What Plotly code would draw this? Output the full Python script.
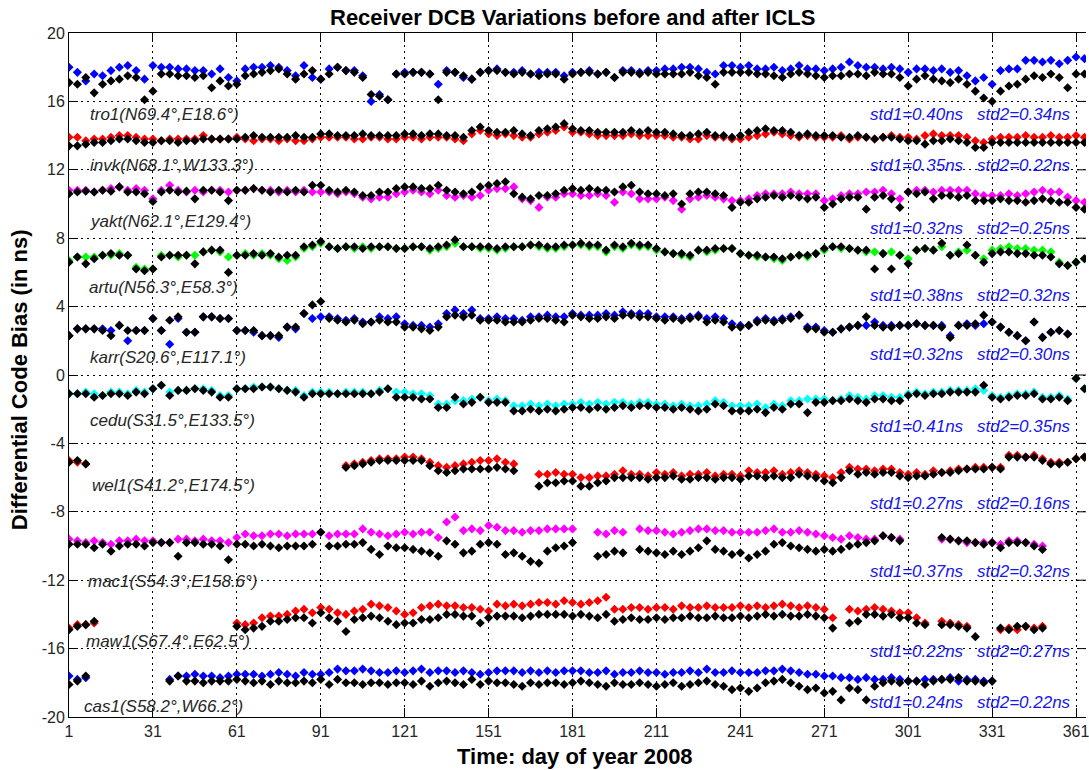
import plotly.graph_objects as go

# ---------------- data (sampled every 3 days: 1, 4, ..., 364) ----------------
days = list(range(1, 365, 3))
_ = None
GAP = [None] * 10

stations = ["tro1(N69.4°,E18.6°)", "invk(N68.1°,W133.3°)", "yakt(N62.1°,E129.4°)",
            "artu(N56.3°,E58.3°)", "karr(S20.6°,E117.1°)", "cedu(S31.5°,E133.5°)",
            "wel1(S41.2°,E174.5°)", "mac1(S54.3°,E158.6°)", "maw1(S67.4°,E62.5°)",
            "cas1(S58.2°,W66.2°)"]
std1 = ["std1=0.40ns", "std1=0.35ns", "std1=0.32ns", "std1=0.38ns", "std1=0.32ns",
        "std1=0.41ns", "std1=0.27ns", "std1=0.37ns", "std1=0.22ns", "std1=0.24ns"]
std2 = ["std2=0.34ns", "std2=0.22ns", "std2=0.25ns", "std2=0.32ns", "std2=0.30ns",
        "std2=0.35ns", "std2=0.16ns", "std2=0.32ns", "std2=0.27ns", "std2=0.22ns"]
station_colors = ["#0000FF", "#FF0000", "#FF00FF", "#00FF00", "#0000FF",
                  "#00FFFF", "#FF0000", "#FF00FF", "#FF0000", "#0000FF"]

x_ticks = [1, 31, 61, 91, 121, 151, 181, 211, 241, 271, 301, 331, 361]
y_ticks = [-20, -16, -12, -8, -4, 0, 4, 8, 12, 16, 20]

tro1_c = [18.0, 17.7, 17.2, 17.6, 17.5, 17.8, 18.0, 18.1, 17.8, 17.3,
          18.1, 18.0, 18.0, 17.9, 17.9, 17.8, 17.8, 17.6, 17.9, 17.4,
          17.2, 17.9, 18.0, 18.0, 18.1, 18.0, 17.8, 17.5, 18.1, 17.4,
          17.3, 17.9, 18.0, 17.8, 17.8, 17.5, 16.0, 16.4, 16.1, 17.6,
          17.7, 17.7, 17.7, 17.6, 17.0, 17.8, 17.7, 17.4, 17.3, 17.7,
          17.8, 17.9, 17.7, 17.7, 17.8, 17.6, 17.7, 17.7, 17.7, 17.5,
          17.7, 17.7, 17.8, 17.6, 17.7, 17.4, 17.8, 17.8, 17.7, 17.8,
          17.8, 17.9, 17.9, 18.0, 18.0, 17.9, 17.7, 17.6, 18.1, 18.1,
          18.0, 18.1, 17.9, 17.9, 18.0, 17.8, 17.9, 18.1, 17.9, 17.9,
          17.8, 17.9, 18.0, 18.3, 18.1, 18.0, 18.0, 17.9, 18.0, 17.9,
          17.7, 17.9, 17.9, 17.8, 17.9, 17.7, 17.8, 17.5, 17.2, 17.4,
          17.0, 17.8, 17.9, 17.9, 18.4, 18.4, 18.3, 18.4, 18.2, 18.4,
          18.6, 18.5]
tro1_k = [17.1, 17.0, 17.4, 16.5, 17.0, 17.2, 17.3, 17.5, 17.4, 16.1,
          16.6, 17.6, 17.6, 17.5, 17.5, 17.4, 17.5, 16.8, 17.2, 16.9,
          17.0, 17.5, 17.6, 17.7, 17.8, 17.9, 17.6, 17.3, 17.6, 17.8,
          17.3, 17.6, 18.0, 17.8, 17.7, 17.4, 16.4, 16.3, 16.1, 17.6,
          17.6, 17.7, 17.7, 17.6, 16.1, 17.7, 17.7, 17.5, 17.3, 17.7,
          17.8, 17.8, 17.7, 17.6, 17.7, 17.6, 17.5, 17.6, 17.6, 17.3,
          17.6, 17.7, 17.7, 17.6, 17.7, 17.4, 17.7, 17.7, 17.6, 17.7,
          17.6, 17.6, 17.6, 17.6, 17.7, 17.5, 17.4, 17.0, 17.7, 17.7,
          17.7, 17.7, 17.6, 17.6, 17.5, 17.4, 17.6, 17.7, 17.6, 17.5,
          17.4, 17.5, 17.5, 17.6, 17.6, 17.5, 17.7, 17.6, 17.6, 17.4,
          16.9, 17.3, 17.5, 17.3, 17.2, 17.1, 17.3, 17.0, 16.6, 16.2,
          16.0, 16.6, 16.9, 17.0, 17.3, 17.5, 17.4, 17.6, 17.4, 16.8,
          17.6, 17.6]

invk_c = [13.9, 13.9, 13.7, 13.8, 13.8, 13.9, 14.0, 14.0, 13.9, 13.8,
          13.8, 13.7, 13.8, 13.8, 13.8, 13.8, 14.0, 13.8, 13.8, 13.8,
          13.9, 13.8, 13.7, 13.8, 13.8, 13.7, 13.8, 13.7, 13.7, 13.8,
          13.9, 13.9, 13.9, 13.9, 13.8, 13.8, 13.9, 13.9, 13.8, 13.8,
          13.9, 13.9, 13.8, 13.9, 13.9, 13.9, 13.8, 13.7, 14.1, 14.3,
          14.1, 14.0, 14.1, 14.0, 13.9, 13.9, 14.1, 14.2, 14.3, 14.5,
          14.2, 14.2, 14.1, 14.0, 14.0, 14.0, 14.0, 14.1, 14.0, 14.0,
          14.0, 14.0, 13.9, 13.9, 13.8, 13.8, 14.0, 13.9, 13.9, 13.8,
          13.8, 13.9, 14.0, 14.1, 14.2, 14.1, 14.0, 13.9, 14.0, 13.9,
          13.9, 13.9, 14.0, 13.8, 13.9, 13.9, 13.8, 13.9, 14.0, 13.9,
          13.9, 13.8, 14.0, 14.1, 14.0, 14.0, 14.0, 13.9, 13.7, 13.6,
          13.8, 13.9, 13.9, 13.9, 14.0, 13.9, 13.9, 14.0, 13.9, 13.9,
          14.0, 13.9]
invk_k = [13.4, 13.4, 13.5, 13.6, 13.6, 13.7, 13.8, 13.8, 13.7, 13.6,
          13.6, 13.7, 13.7, 13.6, 13.7, 13.7, 13.8, 13.8, 13.8, 13.8,
          13.8, 13.9, 14.0, 13.9, 13.9, 13.9, 13.9, 14.0, 13.9, 13.9,
          14.1, 14.1, 14.0, 14.0, 14.0, 14.1, 14.0, 14.0, 14.0, 14.0,
          14.1, 14.1, 14.0, 14.1, 14.1, 14.0, 14.0, 13.9, 14.3, 14.5,
          14.3, 14.2, 14.2, 14.3, 14.1, 14.0, 14.3, 14.4, 14.5, 14.7,
          14.4, 14.3, 14.3, 14.2, 14.2, 14.2, 14.2, 14.3, 14.2, 14.3,
          14.2, 14.2, 14.1, 14.0, 14.0, 14.1, 14.2, 14.0, 14.0, 13.9,
          14.0, 14.2, 14.3, 14.4, 14.3, 14.3, 14.2, 14.0, 14.1, 14.0,
          14.0, 14.0, 13.9, 13.9, 14.0, 13.9, 13.8, 13.9, 13.9, 13.8,
          13.7, 13.7, 13.5, 13.7, 13.7, 13.8, 13.7, 13.6, 13.3, 13.3,
          13.6, 13.6, 13.6, 13.6, 13.6, 13.6, 13.6, 13.6, 13.6, 13.6,
          13.6, 13.6]

yakt_c = [10.8, 10.8, 10.8, 10.7, 10.8, 10.9, 11.0, 10.8, 10.9, 10.8,
          10.3, 10.8, 11.1, 10.8, 10.7, 10.8, 10.7, 10.8, 10.8, 10.7,
          10.8, 10.8, 10.9, 10.8, 10.8, 10.7, 10.8, 10.7, 10.8, 10.7,
          10.7, 10.7, 10.6, 10.7, 10.6, 10.4, 10.3, 10.4, 10.4, 10.6,
          10.7, 10.8, 10.7, 10.6, 10.8, 10.5, 10.4, 10.5, 10.4, 10.5,
          10.8, 10.9, 10.9, 11.0, 10.3, 10.2, 9.8, 10.4, 10.4, 10.6,
          10.6, 10.5, 10.5, 10.6, 10.5, 10.1, 10.7, 10.6, 10.3, 10.3,
          10.3, 10.4, 10.2, 9.7, 10.3, 10.4, 10.5, 10.4, 10.3, 10.2,
          10.2, 10.3, 10.5, 10.6, 10.6, 10.6, 10.7, 10.6, 10.6, 10.6,
          10.2, 10.3, 10.5, 10.6, 10.6, 10.7, 10.7, 10.8, 10.6, 10.3,
          10.7, 10.8, 10.8, 10.7, 10.8, 10.8, 10.8, 10.8, 10.6, 10.5,
          10.5, 10.5, 10.6, 10.5, 10.6, 10.7, 10.8, 10.7, 10.7, 10.4,
          10.2, 10.1]
yakt_k = [10.6, 10.7, 10.75, 10.7, 10.8, 10.75, 11.0, 10.7, 10.7, 10.6,
          10.15, 10.7, 10.8, 10.7, 10.75, 10.3, 10.8, 10.8, 10.7, 10.2,
          10.8, 10.8, 10.9, 10.8, 10.7, 10.8, 10.7, 10.8, 10.7, 11.1,
          11.1, 10.8, 10.7, 10.8, 10.7, 10.5, 10.5, 10.7, 10.7, 10.9,
          11.0, 11.0, 10.9, 10.9, 11.1, 10.8, 10.7, 10.6, 10.7, 11.0,
          11.1, 11.2, 11.3, 10.6, 10.4, 10.3, 10.5, 10.5, 10.6, 10.8,
          10.9, 10.8, 10.9, 10.8, 10.8, 10.7, 11.0, 11.1, 10.7, 10.6,
          10.6, 10.5, 10.6, 10.0, 10.6, 10.7, 10.7, 10.6, 10.5, 9.8,
          10.1, 10.1, 10.3, 10.4, 10.5, 10.4, 10.5, 10.4, 10.3, 10.4,
          9.8, 10.0, 10.3, 10.4, 10.4, 9.7, 10.4, 10.5, 10.3, 9.8,
          10.7, 10.6, 10.7, 10.3, 10.5, 10.5, 10.4, 10.5, 10.2, 10.2,
          10.2, 10.3, 10.2, 10.2, 10.1, 10.2, 10.3, 10.2, 10.1, 10.1,
          9.8, 9.7]

artu_c = [6.7, 6.9, 6.9, 6.9, 7.0, 7.0, 7.1, 7.0, 6.3, 6.2,
          6.2, 7.0, 7.0, 6.9, 7.0, 7.0, 7.2, 7.3, 7.2, 6.9,
          7.0, 7.1, 7.0, 7.1, 7.0, 6.8, 6.7, 6.9, 7.4, 7.5,
          7.7, 7.5, 7.4, 7.5, 7.4, 7.5, 7.4, 7.5, 7.5, 7.4,
          7.4, 7.5, 7.5, 7.3, 7.4, 7.5, 7.7, 7.5, 7.5, 7.4,
          7.4, 7.3, 7.4, 7.5, 7.5, 7.6, 7.5, 7.4, 7.4, 7.5,
          7.6, 7.6, 7.5, 7.5, 7.2, 7.5, 7.4, 7.6, 7.5, 7.5,
          7.3, 7.2, 7.1, 7.0, 6.9, 7.3, 7.2, 7.3, 7.4, 7.4,
          7.1, 7.0, 6.9, 6.9, 6.8, 6.7, 6.9, 7.0, 6.9, 7.1,
          7.3, 7.5, 7.4, 7.4, 7.3, 7.2, 7.2, 7.1, 7.2, 7.0,
          6.8, 7.3, 7.4, 7.3, 7.5, 7.0, 7.2, 7.3, 7.0, 6.8,
          7.3, 7.4, 7.5, 7.4, 7.4, 7.3, 7.3, 7.2, 6.6, 6.4,
          6.6, 6.8]
artu_k = [6.6, 6.9, 6.5, 6.8, 7.0, 7.1, 7.0, 7.0, 6.2, 6.1,
          6.2, 6.9, 7.0, 7.0, 7.0, 6.5, 7.2, 7.3, 7.3, 6.0,
          7.0, 7.0, 7.1, 7.0, 7.1, 6.9, 7.0, 7.0, 7.5, 7.6,
          7.8, 7.5, 7.4, 7.5, 7.5, 7.4, 7.5, 7.5, 7.5, 7.4,
          7.4, 7.5, 7.5, 7.4, 7.5, 7.6, 7.9, 7.5, 7.5, 7.5,
          7.5, 7.4, 7.5, 7.5, 7.5, 7.6, 7.6, 7.5, 7.5, 7.6,
          7.6, 7.7, 7.6, 7.6, 7.3, 7.6, 7.5, 7.7, 7.6, 7.6,
          7.4, 7.2, 7.1, 7.1, 7.0, 7.3, 7.3, 7.4, 7.4, 7.4,
          7.1, 7.0, 7.0, 6.9, 6.9, 6.8, 6.9, 7.0, 7.0, 7.1,
          7.4, 7.5, 7.5, 7.4, 7.3, 7.3, 6.2, 7.1, 6.2, 7.0,
          6.5, 7.3, 7.4, 7.3, 7.7, 7.0, 7.1, 7.6, 7.0, 6.6,
          7.1, 7.2, 7.2, 7.1, 7.1, 7.0, 7.0, 6.9, 6.5, 6.4,
          6.6, 6.8]

karr_c = [2.3, 2.7, 2.7, 2.7, 2.7, 2.6, 2.9, 2.0, 2.6, 2.6,
          3.3, 2.6, 1.8, 3.3, 2.5, 2.5, 3.4, 3.4, 3.3, 3.3,
          2.6, 2.6, 2.5, 2.3, 2.3, 2.2, 2.8, 2.7, 3.6, 3.3,
          3.4, 3.4, 3.3, 3.2, 3.3, 3.1, 3.1, 3.4, 3.3, 3.4,
          3.0, 2.9, 2.9, 2.8, 3.0, 3.6, 3.8, 3.6, 3.8, 3.3,
          3.3, 3.4, 3.3, 3.3, 3.2, 3.4, 3.4, 3.5, 3.4, 3.4,
          3.6, 3.5, 3.5, 3.5, 3.6, 3.5, 3.7, 3.6, 3.6, 3.6,
          3.4, 3.4, 3.4, 3.3, 3.4, 3.5, 3.3, 3.4, 3.3, 3.0,
          2.9, 2.9, 3.2, 3.3, 3.2, 3.3, 3.4, 3.5, 2.8, 2.8,
          2.6, 2.5, 2.7, 2.8, 2.9, 2.9, 3.1, 2.9, 2.9, 2.9,
          2.9, 3.0, 2.9, 2.9, 2.9, 2.3, 2.9, 3.0, 2.9, 3.0,
          3.1, 2.8, 2.5, 2.3, 2.0, 3.1, 2.2, 2.5, 2.6, 2.4,
          _, _]
karr_k = [2.3, 2.7, 2.7, 2.7, 2.6, 2.3, 2.9, 2.6, 2.6, 2.6,
          3.3, 2.6, 3.2, 3.4, 2.5, 2.5, 3.4, 3.4, 3.3, 3.3,
          2.6, 2.6, 2.6, 2.3, 2.3, 2.3, 2.8, 2.8, 3.6, 4.1,
          4.3, 3.3, 3.2, 3.1, 3.2, 3.0, 3.1, 3.2, 3.1, 3.1,
          2.8, 2.8, 2.7, 2.6, 2.8, 3.4, 3.5, 3.4, 3.5, 3.2,
          3.2, 3.2, 3.1, 3.1, 3.1, 3.2, 3.3, 3.3, 3.2, 3.1,
          3.5, 3.4, 3.3, 3.3, 3.4, 3.3, 3.5, 3.5, 3.4, 3.4,
          3.3, 3.2, 3.3, 3.2, 3.3, 3.4, 3.1, 3.2, 3.1, 2.8,
          2.8, 2.9, 3.1, 3.2, 3.1, 3.2, 3.3, 3.5, 2.7, 2.7,
          2.5, 2.5, 2.7, 2.8, 2.9, 3.4, 2.9, 2.8, 2.8, 2.9,
          2.9, 3.0, 2.9, 2.9, 2.8, 2.2, 2.9, 2.9, 3.0, 3.5,
          3.1, 2.8, 2.5, 2.3, 2.0, 3.1, 2.2, 2.5, 2.6, 2.4,
          _, _]

cedu_c = [-1.1, -1.1, -1.0, -1.1, -1.2, -1.0, -1.0, -1.1, -0.9, -1.0,
          -0.8, -0.6, -1.0, -0.9, -0.9, -0.8, -0.8, -0.9, -1.2, -1.2,
          -0.8, -0.8, -0.7, -0.7, -0.7, -0.8, -0.9, -0.9, -1.2, -1.0,
          -1.0, -1.0, -1.1, -1.0, -1.0, -1.0, -1.1, -0.9, -0.8, -1.0,
          -1.0, -1.1, -1.1, -1.2, -1.7, -1.7, -1.5, -1.5, -1.4, -1.3,
          -1.5, -1.4, -1.5, -1.8, -1.8, -1.7, -1.8, -1.7, -1.8, -1.7,
          -1.7, -1.6, -1.7, -1.6, -1.7, -1.6, -1.6, -1.7, -1.6, -1.6,
          -1.7, -1.7, -1.8, -1.7, -1.8, -1.8, -1.7, -1.5, -1.6, -1.8,
          -1.8, -1.8, -1.7, -1.9, -1.7, -1.8, -1.5, -1.5, -1.4, -1.4,
          -1.4, -1.5, -1.4, -1.2, -1.3, -1.4, -1.2, -1.2, -1.3, -1.3,
          -1.1, -1.0, -1.1, -1.0, -1.0, -0.9, -0.9, -0.9, -0.8, -0.9,
          -1.2, -1.3, -1.2, -1.1, -1.1, -1.0, -1.3, -1.3, -1.2, -1.4,
          -0.2, -0.8]
cedu_k = [-1.1, -1.1, -1.1, -1.3, -1.2, -1.1, -1.1, -1.2, -1.0, -1.1,
          -0.8, -0.6, -1.2, -0.9, -0.9, -0.8, -0.9, -1.0, -1.3, -1.3,
          -0.8, -0.8, -0.8, -0.7, -0.7, -0.8, -0.9, -1.0, -1.3, -1.1,
          -1.1, -1.1, -1.1, -1.1, -1.1, -1.1, -1.1, -1.0, -0.8, -1.3,
          -1.3, -1.3, -1.4, -1.4, -1.9, -1.9, -1.3, -1.7, -1.6, -1.3,
          -1.6, -1.6, -1.6, -2.1, -2.1, -2.0, -2.1, -2.0, -2.1, -2.0,
          -1.9, -1.9, -2.0, -1.9, -2.0, -1.9, -1.8, -1.9, -1.8, -1.8,
          -1.9, -1.9, -2.0, -1.9, -2.0, -2.1, -2.0, -1.7, -1.8, -2.1,
          -2.1, -2.1, -2.0, -2.2, -1.9, -2.0, -1.7, -1.7, -2.2, -1.6,
          -1.6, -1.5, -1.5, -1.4, -1.5, -1.6, -1.4, -1.4, -1.5, -1.5,
          -1.2, -1.1, -1.2, -1.1, -1.1, -1.0, -1.0, -1.0, -1.0, -0.6,
          -1.3, -1.4, -1.3, -1.2, -1.2, -1.1, -1.4, -1.4, -1.3, -1.5,
          -0.2, -0.8]

wel1_c = [-5.0, -5.1, -5.2, _, _, _, _, _, _, _,
          *GAP,
          *GAP,
          _, _, _, -5.3, -5.2, -5.1, -5.0, -4.9, -4.9, -4.9,
          -4.8, -4.8, -4.9, -5.1, -5.3, -5.4, -5.3, -5.2, -5.1, -5.0,
          -5.0, -4.9, -5.1, -5.2, _, _, -5.8, -5.8, -5.7, -5.8,
          -5.8, -6.0, -6.0, -5.9, -5.9, -5.8, -5.6, -5.8, -5.8, -5.9,
          -5.7, -5.8, -5.7, -5.9, -5.8, -5.8, -5.7, -5.9, -5.8, -5.8,
          -5.9, -5.6, -5.7, -5.7, -5.6, -5.8, -5.7, -5.6, -5.7, -5.8,
          -5.9, -6.0, -5.7, -5.4, -5.5, -5.5, -5.6, -5.5, -5.5, -5.7,
          -5.8, -5.7, -5.8, -5.6, -5.7, -5.6, -5.5, -5.5, -5.4, -5.4,
          -5.4, -5.4, -4.7, -4.7, -4.8, -4.7, -4.9, -5.1, -5.1, -5.1,
          -4.9, -4.8]
wel1_k = [-5.1, -5.0, -5.2, _, _, _, _, _, _, _,
          *GAP,
          *GAP,
          _, _, _, -5.4, -5.3, -5.2, -5.1, -5.0, -5.0, -5.0,
          -5.0, -5.0, -5.0, -5.3, -5.6, -5.7, -5.6, -5.5, -5.5, -5.5,
          -5.5, -5.4, -5.5, -5.6, _, _, -6.5, -6.3, -6.3, -6.2,
          -6.2, -6.5, -6.5, -6.3, -6.2, -6.0, -6.0, -6.0, -6.0, -6.1,
          -6.0, -6.0, -5.9, -6.1, -6.1, -6.0, -6.0, -6.1, -6.0, -6.0,
          -6.1, -5.9, -5.9, -6.0, -5.9, -6.0, -6.0, -5.8, -5.9, -6.0,
          -6.2, -6.3, -6.0, -5.6, -5.8, -5.7, -5.8, -5.7, -5.7, -5.9,
          -6.0, -5.9, -5.9, -5.8, -5.7, -5.7, -5.6, -5.5, -5.5, -5.5,
          -5.4, -5.5, -4.8, -4.8, -4.8, -4.8, -5.0, -5.2, -5.2, -5.1,
          -4.9, -4.8]

mac1_c = [-9.6, -9.7, -9.8, -9.7, -9.8, -9.9, -9.7, -9.7, -9.6, -9.7,
          -9.7, -9.8, -9.8, -9.6, -9.6, -9.7, -9.6, -9.7, -9.7, -9.8,
          -9.5, -9.3, -9.4, -9.4, -9.3, -9.3, -9.4, -9.3, -9.3, -9.3,
          -9.2, -9.4, -9.3, -9.3, -9.3, -9.0, -9.2, -9.3, -9.4, -9.3,
          -9.2, -9.3, -9.2, -9.2, -9.5, -8.6, -8.3, -9.1, -9.0, -9.1,
          -8.8, -8.9, -9.1, -9.1, -9.2, -9.1, -9.1, -9.0, -9.0, -9.0,
          -9.0, _, _, -9.2, -9.3, -9.1, -9.2, _, -9.0, -9.1,
          -9.1, -9.2, -9.3, -9.2, -9.1, -9.0, -9.0, -9.1, -9.1, -9.2,
          -9.2, -9.2, -9.2, -9.1, -9.0, -9.2, -9.2, -9.1, -9.2, -9.3,
          -9.4, -9.5, -9.6, -9.4, -9.5, -9.6, -9.6, -9.4, -9.5, -9.6,
          _, _, _, _, -9.6, -9.6, -9.7, -9.8, -9.8, -9.8,
          -9.8, -9.9, -9.7, -9.7, -9.8, -9.9, -10.0, _, _, _,
          _, _]
mac1_k = [-9.9, -9.9, -9.9, -10.1, -9.9, -10.3, -10.0, -9.9, -9.9, -10.0,
          -9.8, -9.8, -9.8, -10.6, -9.8, -9.8, -9.9, -9.9, -10.0, -10.8,
          -9.9, -9.9, -10.0, -9.9, -10.0, -10.1, -10.0, -10.0, -10.0, -9.9,
          -9.2, -10.0, -10.0, -9.9, -9.9, -9.8, -10.2, -10.5, -10.0, -10.1,
          -10.1, -10.2, -10.3, -10.4, -10.6, -9.7, -9.9, -10.4, -10.3, -9.9,
          -9.8, -9.9, -10.5, -10.4, -10.6, -10.9, -11.0, -10.3, -10.1, -10.0,
          -9.8, _, _, -10.6, -10.5, -10.3, -10.4, _, -10.2, -10.3,
          -10.4, -10.5, -10.3, -10.5, -10.3, -10.1, -9.7, -10.2, -10.3, -10.5,
          -10.4, -10.7, -10.5, -10.3, -9.9, -9.8, -10.0, -10.1, -10.2, -10.3,
          -10.2, -10.3, -10.2, -10.0, -9.9, -9.8, -9.7, -9.4, -9.5, -9.7,
          _, _, _, _, -9.5, -9.6, -9.7, -9.7, -9.8, -9.9,
          -9.8, -10.1, -9.8, -9.8, -9.8, -10.0, -10.2, _, _, _,
          _, _]

maw1_c = [-14.8, -14.6, -14.6, -14.5, _, _, _, _, _, _,
          *GAP,
          -14.5, -14.6, -14.5, -14.2, -14.1, -14.1, -14.0, -13.8, -13.7, -13.9,
          -13.6, -13.7, -13.9, -14.0, -13.8, -13.7, -13.4, -13.5, -13.6, -13.8,
          -14.0, -13.9, -13.6, -13.5, -13.4, -13.5, -13.5, -13.6, -13.6, -13.7,
          -13.8, -13.4, -13.5, -13.4, -13.5, -13.4, -13.3, -13.3, -13.4, -13.2,
          -13.3, -13.4, -13.3, -13.2, -13.0, -13.7, -13.7, -13.6, -13.6, -13.7,
          -13.6, -13.6, -13.7, -13.5, -13.6, -13.6, -13.5, -13.6, -13.6, -13.6,
          -13.5, -13.6, -13.5, -13.6, -13.5, -13.4, -13.5, -13.6, -13.5, -13.6,
          -13.7, -14.2, _, -13.7, -13.8, -13.7, -13.6, -13.7, -13.8, -13.9,
          -13.9, -14.2, -14.5, _, -14.4, -14.5, -14.6, -14.7, _, _,
          _, -14.9, -14.8, -14.9, -14.7, -14.8, -14.7, _, _, _,
          _, _]
maw1_k = [-14.9, -14.7, -14.6, -14.4, _, _, _, _, _, _,
          *GAP,
          -14.7, -14.9, -14.8, -14.7, -14.4, -14.4, -14.3, -14.2, -14.2, -14.5,
          -13.9, -14.2, -14.4, -15.0, -14.3, -14.2, -14.1, -14.2, -14.4, -14.6,
          -14.5, -14.5, -14.3, -14.3, -14.2, -14.0, -14.0, -14.1, -14.1, -14.5,
          -14.2, -14.1, -14.1, -14.1, -14.2, -14.1, -14.0, -14.0, -14.0, -14.0,
          -14.1, -14.0, -14.1, -14.2, -14.0, -14.4, -14.3, -14.2, -14.3, -14.3,
          -14.2, -14.3, -14.2, -14.2, -14.1, -14.2, -14.2, -14.1, -14.2, -14.2,
          -14.1, -14.2, -14.1, -14.0, -14.1, -14.0, -14.1, -14.1, -14.0, -14.1,
          -14.2, -14.8, _, -14.5, -14.4, -14.0, -14.0, -14.1, -14.0, -14.2,
          -14.2, -14.5, -14.6, _, -14.6, -14.6, -14.7, -14.8, -15.3, _,
          _, -14.8, -14.9, -14.7, -14.7, -14.9, -14.8, _, _, _,
          _, _]

cas1_c = [-17.6, -17.8, -17.7, _, _, _, _, _, _, _,
          _, _, -17.8, -17.6, -17.6, -17.5, -17.6, -17.6, -17.7, -17.6,
          -17.5, -17.5, -17.5, -17.6, -17.5, -17.4, -17.5, -17.6, -17.4, -17.5,
          -17.5, -17.4, -17.2, -17.3, -17.3, -17.2, -17.3, -17.4, -17.4, -17.3,
          -17.4, -17.3, -17.2, -17.4, -17.3, -17.3, -17.4, -17.3, -17.4, -17.5,
          -17.4, -17.3, -17.3, -17.3, -17.4, -17.3, -17.4, -17.3, -17.4, -17.3,
          -17.3, -17.3, -17.4, -17.4, -17.3, -17.5, -17.4, -17.4, -17.3, -17.4,
          -17.4, -17.5, -17.4, -17.4, -17.3, -17.4, -17.2, -17.4, -17.4, -17.3,
          -17.4, -17.4, -17.4, -17.3, -17.3, -17.2, -17.3, -17.4, -17.5, -17.5,
          -17.6, -17.6, -17.7, -17.7, -17.8, -17.7, -17.8, -17.8, -17.7, -17.8,
          -17.9, -17.9, -17.8, -17.8, -17.8, -17.7, -17.9, -17.8, -17.8, -17.9,
          -17.9, _, _, _, _, _, _, _, _, _,
          _, _]
cas1_k = [-18.1, -17.9, -17.6, _, _, _, _, _, _, _,
          _, _, -17.9, -17.6, -17.9, -17.9, -18.0, -17.9, -17.9, -17.9,
          -17.8, -17.9, -18.0, -17.9, -18.1, -17.9, -18.0, -18.0, -17.9, -18.0,
          -17.8, -18.1, -17.8, -18.0, -18.0, -18.1, -18.0, -18.0, -18.1, -18.0,
          -18.0, -18.1, -17.9, -18.2, -18.0, -17.9, -18.0, -18.1, -17.8, -18.1,
          -17.9, -18.0, -18.0, -18.1, -18.2, -18.0, -18.1, -18.0, -18.0, -18.1,
          -18.0, -17.9, -18.0, -18.1, -18.2, -18.0, -18.1, -18.1, -18.0, -18.1,
          -18.2, -18.1, -18.0, -18.2, -18.1, -18.0, -17.9, -18.1, -18.2, -18.4,
          -18.3, -18.5, -18.3, -18.0, -17.9, -17.8, -18.0, -18.2, -18.4, -18.3,
          -18.6, -18.5, -19.0, -18.3, -18.4, -19.0, -18.2, -18.0, -17.9, -18.0,
          -17.9, -17.9, -18.1, -17.9, -17.8, -17.8, -17.7, -17.9, -17.9, -18.0,
          -17.9, _, _, _, _, _, _, _, _, _,
          _, _]

colored_series = [tro1_c, invk_c, yakt_c, artu_c, karr_c, cedu_c, wel1_c, mac1_c, maw1_c, cas1_c]
black_series = [tro1_k, invk_k, yakt_k, artu_k, karr_k, cedu_k, wel1_k, mac1_k, maw1_k, cas1_k]

# ---------------- layout geometry (pixels) ----------------
W, H = 1089, 770
L, R, T, B = 69, 0, 33, 53
PW, PH = W - L - R, H - T - B
X_MIN, X_MAX = 1, 1 + PW / 2.8056


def px_x(px):
    return (px - L) / PW


def px_y(py):
    return (H - B - py) / PH


label_px_y = [114, 165, 221, 287, 357, 420, 486, 581, 641, 706]
label_px_x = [88, 88, 88, 87, 88, 88, 90, 86, 84, 82]
std_px_y = [115, 166, 228, 295, 355, 427, 503, 571, 651, 702]

FONT = "Arial, 'Liberation Sans', Helvetica, sans-serif"

fig = go.Figure()
for name, col, cser in zip(stations, station_colors, colored_series):
    sid = name.split("(")[0]
    fig.add_trace(go.Scatter(x=days, y=cser, mode="markers", name=sid + " before",
                             marker=dict(symbol="diamond", size=7, color=col,
                                         line=dict(width=0)),
                             showlegend=False, hoverinfo="x+y"))
for name, kser in zip(stations, black_series):
    sid = name.split("(")[0]
    fig.add_trace(go.Scatter(x=days, y=kser, mode="markers", name=sid + " after",
                             marker=dict(symbol="diamond", size=7, color="#000000",
                                         line=dict(width=0)),
                             showlegend=False, hoverinfo="x+y"))

annotations = []
for i in range(len(stations)):
    annotations.append(dict(xref="paper", yref="paper", x=px_x(label_px_x[i]), y=px_y(label_px_y[i]),
                            xanchor="left", yanchor="middle", showarrow=False,
                            text="<i>" + stations[i] + "</i>",
                            font=dict(family=FONT, size=17, color="#262626")))
    annotations.append(dict(xref="paper", yref="paper", x=px_x(870), y=px_y(std_px_y[i]),
                            xanchor="left", yanchor="middle", showarrow=False,
                            text="<i>" + std1[i] + "</i>",
                            font=dict(family=FONT, size=17, color="#1515f0")))
    annotations.append(dict(xref="paper", yref="paper", x=px_x(978), y=px_y(std_px_y[i]),
                            xanchor="left", yanchor="middle", showarrow=False,
                            text="<i>" + std2[i] + "</i>",
                            font=dict(family=FONT, size=17, color="#1515f0")))

annotations.append(dict(xref="paper", yref="paper", x=px_x(574), y=px_y(17),
                        xanchor="center", yanchor="middle", showarrow=False,
                        text="<b>Receiver DCB Variations before and after ICLS</b>",
                        font=dict(family=FONT, size=22, color="#000000")))
annotations.append(dict(xref="paper", yref="paper", x=px_x(576), y=px_y(757),
                        xanchor="center", yanchor="middle", showarrow=False,
                        text="<b>Time: day of year 2008</b>",
                        font=dict(family=FONT, size=22, color="#000000")))
annotations.append(dict(xref="paper", yref="paper", x=px_x(19), y=px_y(380),
                        xanchor="center", yanchor="middle", showarrow=False, textangle=-90,
                        text="<b>Differential Code Bias (in ns)</b>",
                        font=dict(family=FONT, size=22, color="#000000")))

# right-hand inner tick stubs (right spine lies just beyond the picture edge)
shapes = []
for yv in y_ticks[1:-1]:
    shapes.append(dict(type="line", xref="paper", yref="y", x0=px_x(1080), x1=1.0,
                       y0=yv, y1=yv, line=dict(color="#000000", width=1)))

fig.update_layout(
    width=W, height=H,
    margin=dict(l=L, r=R, t=T, b=B, pad=0),
    paper_bgcolor="white", plot_bgcolor="white",
    showlegend=False,
    annotations=annotations,
    shapes=shapes,
    font=dict(family=FONT, size=16, color="#262626"),
    xaxis=dict(range=[X_MIN, X_MAX], tickmode="array", tickvals=x_ticks,
               ticktext=[str(v) for v in x_ticks], ticklabeloverflow="allow",
               showgrid=True, gridcolor="#000000", gridwidth=1, griddash="2px,4px",
               zeroline=False, showline=True, linecolor="#000000", linewidth=1,
               mirror="ticks", ticks="inside", ticklen=9, tickcolor="#000000",
               tickfont=dict(family=FONT, size=16, color="#262626")),
    yaxis=dict(range=[-20, 20], tickmode="array", tickvals=y_ticks,
               ticktext=[str(v) for v in y_ticks],
               showgrid=True, gridcolor="#000000", gridwidth=1, griddash="2px,4px",
               zeroline=False, showline=True, linecolor="#000000", linewidth=1,
               mirror=False, ticks="inside", ticklen=9, tickcolor="#000000",
               tickfont=dict(family=FONT, size=16, color="#262626")),
)

fig.write_html("out.html")
